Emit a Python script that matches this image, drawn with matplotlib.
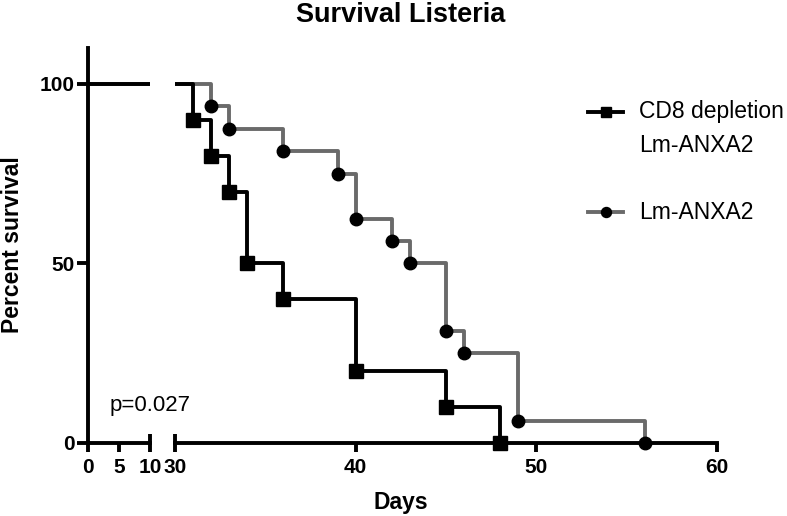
import matplotlib
matplotlib.use("Agg")
import matplotlib.pyplot as plt
from matplotlib.lines import Line2D

plt.rcParams['font.family'] = ['Liberation Sans', 'DejaVu Sans']

# Kaplan-Meier curves (days, percent survival)
daysCd8 = [0, 31, 32, 33, 34, 36, 40, 45, 48]
survCd8 = [100, 90, 80, 70, 50, 40, 20, 10, 0]
daysLm = [0, 32, 33, 36, 39, 40, 42, 43, 45, 46, 49, 56]
survLm = [100, 93.75, 87.5, 81.25, 75, 62.5, 56.25, 50, 31.25, 25, 6.25, 0]

labelCd8 = ["CD8 depletion", "Lm-ANXA2"]
labelLm = "Lm-ANXA2"
pText = "p=0.027"

GREY = "#6a6a6a"
LW = 2.8
W, H = 787, 516

def fx(px):
    return px / W

def fy(py):
    return 1 - py / H

fig = plt.figure(figsize=(W / 100, H / 100), dpi=100)
bottom = (H - 443) / H
height = (443 - 48) / H
ax1 = fig.add_axes([fx(88), bottom, 62 / W, height])
ax2 = fig.add_axes([fx(175), bottom, 542 / W, height])

def drawCurves(ax, clip):
    ax.step(daysLm, survLm, where='post', color=GREY, lw=LW, zorder=2)
    ax.plot(daysLm[1:], survLm[1:], 'o', color='black', ms=9, zorder=3, clip_on=clip)
    ax.step(daysCd8, survCd8, where='post', color='black', lw=LW, zorder=4)
    ax.plot(daysCd8[1:], survCd8[1:], 's', color='black', ms=9.5, zorder=5, clip_on=clip)

drawCurves(ax1, True)
drawCurves(ax2, False)

for ax in (ax1, ax2):
    ax.set_ylim(0, 110)
    ax.spines['top'].set_visible(False)
    ax.spines['right'].set_visible(False)
    ax.spines['bottom'].set_linewidth(LW)
    ax.spines['left'].set_linewidth(LW)
    ax.tick_params(which='major', direction='out', length=6.5, width=LW, pad=4.5, labelsize=15)
    ax.tick_params(which='minor', direction='inout', length=13, width=LW, pad=4.5, labelsize=15)

ax1.set_xlim(0, 10)
ax1.set_xticks([0, 5])
ax1.set_xticks([10], minor=True)
ax1.set_xticklabels(["0", "5"], fontweight='bold')
ax1.set_xticklabels(["10"], minor=True, fontweight='bold')
ax1.set_yticks([0, 50, 100])
ax1.set_yticklabels(["0", "50", "100"], fontweight='bold')
ax1.tick_params(axis='y', length=8, pad=1.5)

ax2.set_xlim(30, 60)
ax2.set_xticks([40, 50, 60])
ax2.set_xticks([30], minor=True)
ax2.set_xticklabels(["40", "50", "60"], fontweight='bold')
ax2.set_xticklabels(["30"], minor=True, fontweight='bold')
ax2.spines['left'].set_visible(False)
ax2.set_yticks([])

fig.text(fx(401), fy(15), "Survival Listeria", fontsize=19.5, fontweight='bold', ha='center', va='center')
fig.text(fx(401), fy(503), "Days", fontsize=16.5, fontweight='bold', ha='center', va='center')
fig.text(fx(13), fy(245), "Percent survival", fontsize=16.5, fontweight='bold',
         ha='center', va='center', rotation=90)
fig.text(fx(110), fy(405), pText, fontsize=16, ha='left', va='center')

# legend drawn by hand: handle sits beside the first line of the two-line label
legRows = [(112, 'black', 's', 9.5), (212, GREY, 'o', 9)]
for (ly, col, mk, ms) in legRows:
    fig.add_artist(Line2D([fx(588), fx(623)], [fy(ly), fy(ly)], transform=fig.transFigure,
                          color=col, lw=LW))
    fig.add_artist(Line2D([fx(605.5)], [fy(ly)], transform=fig.transFigure, ls='none',
                          marker=mk, color='black', ms=ms * 0.8))
fig.text(fx(639), fy(112), labelCd8[0], fontsize=16.5, ha='left', va='center')
fig.text(fx(639), fy(145), labelCd8[1], fontsize=16.5, ha='left', va='center')
fig.text(fx(639), fy(212), labelLm, fontsize=16.5, ha='left', va='center')

fig.savefig("out.png", dpi=100)
